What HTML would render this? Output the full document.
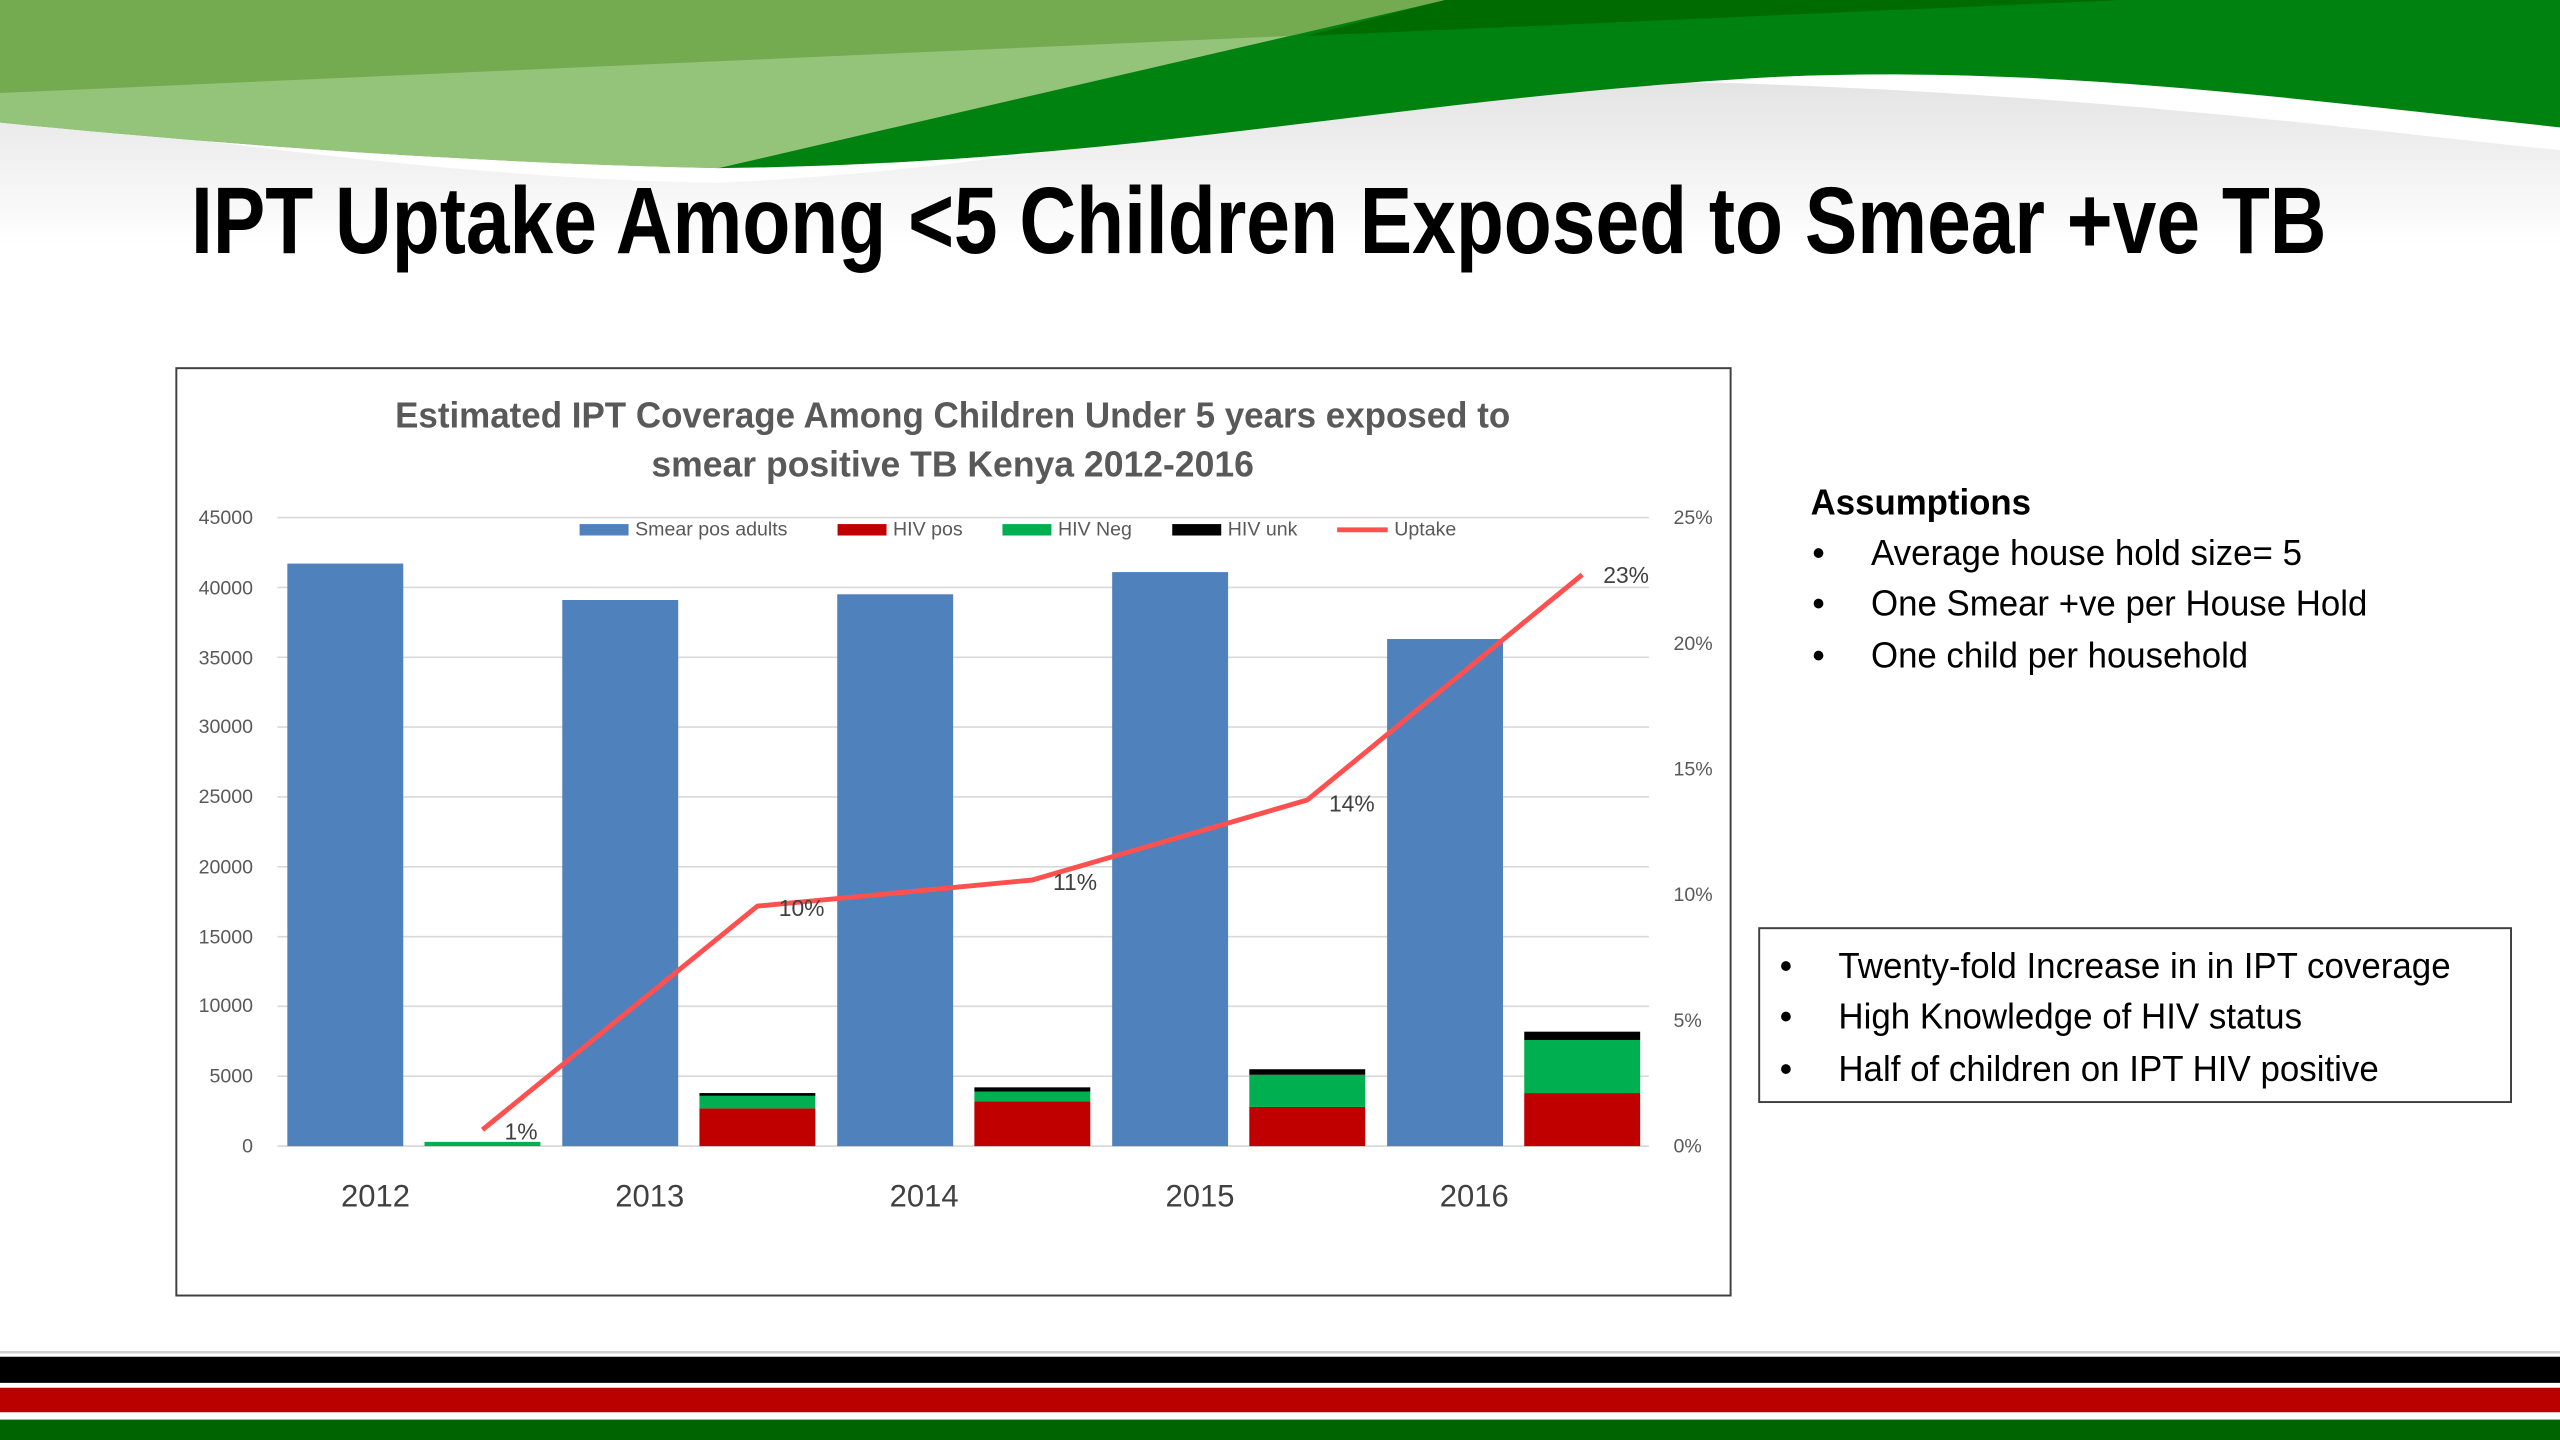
<!DOCTYPE html>
<html><head><meta charset="utf-8"><style>
html,body{margin:0;padding:0;background:#fff;width:2560px;height:1440px;overflow:hidden}
svg{display:block}
text{font-family:"Liberation Sans",Arial,sans-serif}
</style></head><body>
<svg width="2560" height="1440" viewBox="0 0 1568 882" xmlns="http://www.w3.org/2000/svg">
<defs>
<linearGradient id="sh" x1="0" y1="0" x2="0" y2="1">
<stop offset="0" stop-color="#d8d8d8"/><stop offset="1" stop-color="#ffffff"/>
</linearGradient>
</defs>
<rect width="1568" height="882" fill="#fff"/>
<!-- header shadow -->
<path d="M0,70 C150,90 300,110 440,112 C700,100 850,40 1090,52 C1300,60 1450,80 1568,92 L1568,150 L0,150 Z" fill="url(#sh)" opacity="0.7"/>
<!-- light green region -->
<path d="M0,0 L885,0 L440,103 C300,100 150,90 0,75 Z" fill="#74aa50"/>
<path d="M0,57 L790,22 L440,103 C300,100 150,90 0,75 Z" fill="#94c47a"/>
<!-- dark green region -->
<path d="M885,0 L1568,0 L1568,78 C1400,60 1250,40 1090,47 C850,60 700,100 440,103 Z" fill="#008210"/>
<path d="M885,0 L1300,0 L800,22 Z" fill="#006b00"/>
<!-- title -->
<text x="117" y="155" font-size="58" font-weight="bold" fill="#000" textLength="1308" lengthAdjust="spacingAndGlyphs">IPT Uptake Among &lt;5 Children Exposed to Smear +ve TB</text>
<!-- chart box -->
<rect x="108" y="225.5" width="952" height="568" fill="#fff" stroke="#404040" stroke-width="1.2"/>
<text x="242" y="262" font-size="22" font-weight="bold" fill="#595959" textLength="683" lengthAdjust="spacingAndGlyphs">Estimated IPT Coverage Among Children Under 5 years exposed to</text>
<text x="399" y="292" font-size="22" font-weight="bold" fill="#595959" textLength="369" lengthAdjust="spacingAndGlyphs">smear positive TB Kenya  2012-2016</text>
<!-- gridlines -->
<g stroke="#d9d9d9" stroke-width="1">
<line x1="170" x2="1010" y1="317" y2="317"/><line x1="170" x2="1010" y1="359.8" y2="359.8"/>
<line x1="170" x2="1010" y1="402.6" y2="402.6"/><line x1="170" x2="1010" y1="445.3" y2="445.3"/>
<line x1="170" x2="1010" y1="488.1" y2="488.1"/><line x1="170" x2="1010" y1="530.9" y2="530.9"/>
<line x1="170" x2="1010" y1="573.7" y2="573.7"/><line x1="170" x2="1010" y1="616.4" y2="616.4"/>
<line x1="170" x2="1010" y1="659.2" y2="659.2"/><line x1="170" x2="1010" y1="702" y2="702"/>
</g>
<g font-size="12" fill="#595959" text-anchor="end">
<text x="155" y="321">45000</text><text x="155" y="364">40000</text><text x="155" y="407">35000</text>
<text x="155" y="449">30000</text><text x="155" y="492">25000</text><text x="155" y="535">20000</text>
<text x="155" y="578">15000</text><text x="155" y="620">10000</text><text x="155" y="663">5000</text>
<text x="155" y="706">0</text>
</g>
<g font-size="12" fill="#595959">
<text x="1025" y="321">25%</text><text x="1025" y="398">20%</text><text x="1025" y="475">15%</text>
<text x="1025" y="552">10%</text><text x="1025" y="629">5%</text><text x="1025" y="706">0%</text>
</g>
<!-- blue bars -->
<g fill="#4f81bd">
<rect x="176" y="345.2" width="71" height="356.8"/>
<rect x="344.4" y="367.5" width="71" height="334.5"/>
<rect x="512.8" y="364" width="71" height="338"/>
<rect x="681.2" y="350.4" width="71" height="351.6"/>
<rect x="849.6" y="391.4" width="71" height="310.6"/>
</g>
<!-- stacks -->
<rect x="260" y="699.4" width="71" height="2.6" fill="#00b050"/>
<rect x="428.4" y="678.9" width="71" height="23.1" fill="#c00000"/>
<rect x="428.4" y="671.2" width="71" height="7.7" fill="#00b050"/>
<rect x="428.4" y="669.5" width="71" height="1.7" fill="#000"/>
<rect x="596.8" y="674.6" width="71" height="27.4" fill="#c00000"/>
<rect x="596.8" y="668.6" width="71" height="6" fill="#00b050"/>
<rect x="596.8" y="666" width="71" height="2.6" fill="#000"/>
<rect x="765.2" y="678" width="71" height="24" fill="#c00000"/>
<rect x="765.2" y="658.3" width="71" height="19.7" fill="#00b050"/>
<rect x="765.2" y="654.9" width="71" height="3.4" fill="#000"/>
<rect x="933.6" y="669.5" width="71" height="32.5" fill="#c00000"/>
<rect x="933.6" y="637" width="71" height="32.5" fill="#00b050"/>
<rect x="933.6" y="631.9" width="71" height="5.1" fill="#000"/>
<!-- uptake line -->
<polyline points="295.5,692 463.9,555 632.3,539 800.7,490 969.1,352" fill="none" stroke="#ff5050" stroke-width="3" stroke-linejoin="round"/>
<g font-size="14" fill="#404040">
<text x="309" y="698">1%</text><text x="477" y="561">10%</text><text x="645" y="545">11%</text>
<text x="814" y="497">14%</text><text x="982" y="357">23%</text>
</g>
<!-- legend -->
<g font-size="12" fill="#595959">
<rect x="355" y="321" width="30" height="7" fill="#4f81bd"/><text x="389" y="328">Smear pos adults</text>
<rect x="513" y="321" width="30" height="7" fill="#c00000"/><text x="547" y="328">HIV pos</text>
<rect x="614" y="321" width="30" height="7" fill="#00b050"/><text x="648" y="328">HIV Neg</text>
<rect x="718" y="321" width="30" height="7" fill="#000"/><text x="752" y="328">HIV unk</text>
<line x1="819" x2="850" y1="324.5" y2="324.5" stroke="#ff5050" stroke-width="3"/><text x="854" y="328">Uptake</text>
</g>
<!-- year labels -->
<g font-size="19" fill="#404040" text-anchor="middle">
<text x="230" y="739">2012</text><text x="398" y="739">2013</text><text x="566" y="739">2014</text>
<text x="735" y="739">2015</text><text x="903" y="739">2016</text>
</g>
<!-- assumptions -->
<text x="1109" y="315" font-size="22" font-weight="bold" fill="#000" textLength="135" lengthAdjust="spacingAndGlyphs">Assumptions</text>
<g font-size="22" fill="#000">
<text x="1110" y="346">•</text><text x="1146" y="346" textLength="264" lengthAdjust="spacingAndGlyphs">Average house hold size= 5</text>
<text x="1110" y="377">•</text><text x="1146" y="377" textLength="304" lengthAdjust="spacingAndGlyphs">One Smear +ve per House Hold</text>
<text x="1110" y="409">•</text><text x="1146" y="409" textLength="231" lengthAdjust="spacingAndGlyphs">One child per household</text>
</g>
<rect x="1077.5" y="568.5" width="460.5" height="106.5" fill="#fff" stroke="#404040" stroke-width="1.2"/>
<g font-size="22" fill="#000">
<text x="1090" y="599">•</text><text x="1126" y="599" textLength="375" lengthAdjust="spacingAndGlyphs">Twenty-fold Increase in in IPT coverage</text>
<text x="1090" y="630">•</text><text x="1126" y="630" textLength="284" lengthAdjust="spacingAndGlyphs">High Knowledge of HIV status</text>
<text x="1090" y="662">•</text><text x="1126" y="662" textLength="331" lengthAdjust="spacingAndGlyphs">Half of children on IPT HIV positive</text>
</g>
<!-- bottom stripes -->
<rect x="0" y="827.5" width="1568" height="1.5" fill="#d0d0d0"/>
<rect x="0" y="831" width="1568" height="16" fill="#000"/>
<rect x="0" y="850" width="1568" height="15" fill="#bb0000"/>
<rect x="0" y="869.5" width="1568" height="12.5" fill="#006400"/>
</svg>
</body></html>
